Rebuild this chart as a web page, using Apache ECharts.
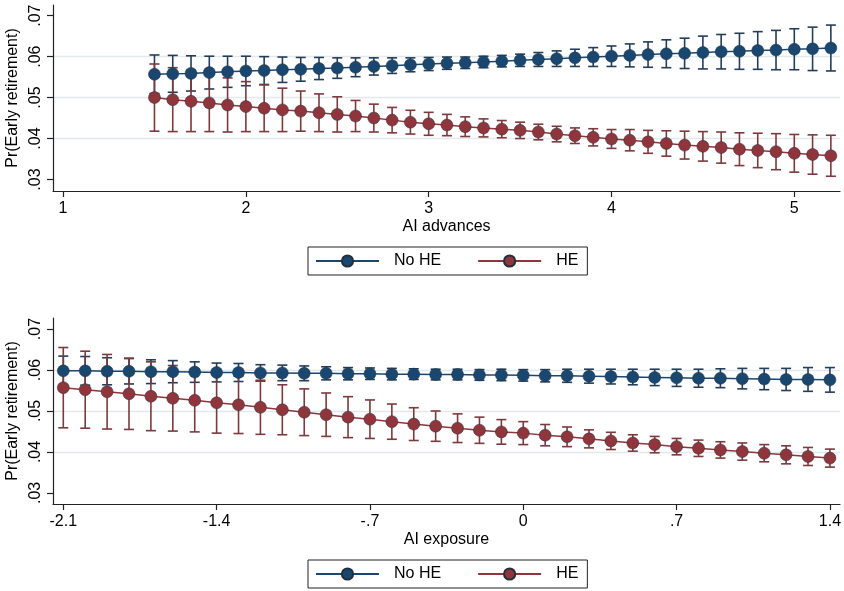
<!DOCTYPE html>
<html>
<head>
<meta charset="utf-8">
<script src="https://cdn.jsdelivr.net/npm/echarts@6/dist/echarts.min.js"></script>
<style>
html, body { margin: 0; background: #fff; }
#main { width: 844px; height: 591px; }
</style>
</head>
<body>
<div id="main"></div>
<script>
// 上图：AI advances
var advX = [1.5, 1.6, 1.7, 1.8, 1.9, 2.0, 2.1, 2.2, 2.3, 2.4, 2.5, 2.6, 2.7, 2.8, 2.9, 3.0, 3.1, 3.2, 3.3,
    3.4, 3.5, 3.6, 3.7, 3.8, 3.9, 4.0, 4.1, 4.2, 4.3, 4.4, 4.5, 4.6, 4.7, 4.8, 4.9, 5.0, 5.1, 5.2];
var advNoHE = [.0557, .0558, .0559, .0561, .0563, .0565, .0566, .0568, .0569, .0571, .0572, .0574, .0576,
    .0578, .0580, .0582, .0584, .0585, .0587, .0589, .0591, .0593, .0595, .0597, .0599, .0601, .0603,
    .0605, .0607, .0608, .0610, .0612, .0613, .0615, .0616, .0618, .0619, .0621];
var advNoHECi = [.0047, .0045, .0043, .0040, .0038, .0036, .0034, .0031, .0029, .0027, .0025, .0023, .0021,
    .0019, .0017, .0016, .0015, .0014, .0014, .0014, .0015, .0017, .0019, .0021, .0023, .0025, .0028,
    .0031, .0034, .0037, .0040, .0042, .0044, .0046, .0048, .0050, .0053, .0056];
var advHE = [.0500, .0495, .0491, .0487, .0482, .0478, .0474, .0470, .0467, .0463, .0459, .0455, .0450,
    .0445, .0440, .0436, .0433, .0429, .0426, .0423, .0420, .0416, .0411, .0407, .0403, .0399, .0396,
    .0392, .0388, .0384, .0381, .0378, .0374, .0371, .0368, .0364, .0361, .0358];
var advHECi = [.0082, .0078, .0074, .0070, .0066, .0061, .0057, .0053, .0049, .0046, .0043, .0038, .0034,
    .0031, .0029, .0028, .0026, .0024, .0022, .0021, .0020, .0019, .0019, .0019, .0021, .0023, .0026,
    .0028, .0031, .0034, .0036, .0038, .0040, .0042, .0044, .0046, .0048, .0050];
var advTicks = [1, 2, 3, 4, 5];

// 下图：AI exposure
var expX = [-2.1, -2.0, -1.9, -1.8, -1.7, -1.6, -1.5, -1.4, -1.3, -1.2, -1.1, -1.0, -0.9, -0.8, -0.7, -0.6,
    -0.5, -0.4, -0.3, -0.2, -0.1, 0, 0.1, 0.2, 0.3, 0.4, 0.5, 0.6, 0.7, 0.8, 0.9, 1.0, 1.1, 1.2, 1.3, 1.4];
var expNoHE = [.0598, .0598, .0597, .0597, .0596, .0596, .0595, .0594, .0594, .0593, .0593, .0592, .0592,
    .0591, .0591, .0590, .0590, .0589, .0589, .0588, .0588, .0587, .0586, .0586, .0585, .0584, .0583,
    .0582, .0581, .0580, .0580, .0579, .0578, .0577, .0577, .0576];
var expNoHECi = [.0036, .0035, .0033, .0031, .0029, .0027, .0025, .0023, .0022, .0020, .0019, .0018, .0016,
    .0015, .0014, .0014, .0013, .0013, .0013, .0013, .0014, .0014, .0015, .0016, .0017, .0018, .0019,
    .0020, .0021, .0022, .0023, .0025, .0026, .0027, .0029, .0030];
var expHE = [.0557, .0552, .0547, .0542, .0536, .0531, .0526, .0520, .0515, .0509, .0503, .0497, .0491,
    .0485, .0480, .0474, .0468, .0463, .0458, .0453, .0449, .0446, .0441, .0437, .0432, .0427, .0422,
    .0418, .0413, .0409, .0405, .0401, .0397, .0393, .0389, .0385];
var expHECi = [.0098, .0094, .0091, .0087, .0084, .0080, .0077, .0074, .0070, .0066, .0061, .0057, .0053,
    .0050, .0047, .0043, .0040, .0037, .0035, .0032, .0030, .0028, .0026, .0024, .0022, .0021, .0020,
    .0020, .0020, .0020, .0020, .0021, .0021, .0022, .0022, .0022];
var expTicks = [-2.1, -1.4, -0.7, 0, 0.7, 1.4];

var yTicks = [0.03, 0.04, 0.05, 0.06, 0.07];

var navy = '#1a476f';
var maroon = '#90353b';
var font = 'Liberation Sans, Arial, Helvetica, sans-serif';

function pairs(xs, ys) {
    return xs.map(function (x, i) { return [x, ys[i]]; });
}
function ciData(xs, ys, hw) {
    return xs.map(function (x, i) { return [x, ys[i] - hw[i], ys[i] + hw[i]]; });
}
function dotless(v) {
    var s = String(Math.round(v * 100) / 100);
    return s.replace(/^0\./, '.').replace(/^-0\./, '-.');
}

// 误差线（带帽）
function renderCap(params, api) {
    var x = api.value(0);
    var lo = api.coord([x, api.value(1)]);
    var hi = api.coord([x, api.value(2)]);
    var w = 5;
    var st = { stroke: api.visual('color'), lineWidth: 1.6 };
    return {
        type: 'group',
        children: [
            { type: 'line', shape: { x1: lo[0], y1: lo[1], x2: hi[0], y2: hi[1] }, style: st },
            { type: 'line', shape: { x1: lo[0] - w, y1: lo[1], x2: lo[0] + w, y2: lo[1] }, style: st },
            { type: 'line', shape: { x1: hi[0] - w, y1: hi[1], x2: hi[0] + w, y2: hi[1] }, style: st }
        ]
    };
}

function xAxisCfg(idx, min, max, ticks, name) {
    return {
        type: 'value', gridIndex: idx, min: min, max: max,
        name: name, nameLocation: 'middle', nameGap: 28,
        nameTextStyle: { fontFamily: font, fontSize: 16, color: '#000' },
        axisLine: { onZero: false, lineStyle: { color: '#222', width: 1.2 } },
        axisTick: { customValues: ticks, length: 6, lineStyle: { color: '#222', width: 1.2 } },
        axisLabel: { customValues: ticks, margin: 10, fontFamily: font, fontSize: 16, color: '#000',
            formatter: dotless },
        splitLine: { show: false }
    };
}
function yAxisCfg(idx, min, max) {
    return {
        type: 'value', gridIndex: idx, min: min, max: max,
        name: 'Pr(Early retirement)', nameLocation: 'middle', nameGap: 27,
        nameTextStyle: { fontFamily: font, fontSize: 16, color: '#000' },
        axisLine: { show: true, onZero: false, lineStyle: { color: '#222', width: 1.2 } },
        axisTick: { show: true, customValues: yTicks, length: 6, lineStyle: { color: '#222', width: 1.2 } },
        axisLabel: { customValues: yTicks, rotate: 90, margin: 9, fontFamily: font, fontSize: 16, color: '#000',
            formatter: dotless },
        splitLine: { show: true, showMinLine: false, showMaxLine: false,
            lineStyle: { color: '#e2e9ec', width: 1.3 } }
    };
}

function lineSeries(name, idx, data, color) {
    return {
        name: name, type: 'line', xAxisIndex: idx, yAxisIndex: idx, data: data,
        symbol: 'circle', symbolSize: 12, z: 5,
        lineStyle: { color: color, width: 1.5 },
        itemStyle: { color: color, borderColor: '#22303d', borderWidth: 0.5 },
        emphasis: { disabled: true }
    };
}
function capSeries(name, idx, data, color) {
    return {
        name: name, type: 'custom', xAxisIndex: idx, yAxisIndex: idx, data: data,
        renderItem: renderCap, z: 3, itemStyle: { color: color }, silent: true
    };
}

function legendCfg(top) {
    return {
        top: top, left: 308, data: ['No HE', 'HE'],
        borderColor: '#222', borderWidth: 1, padding: [6, 9, 6, 7],
        itemWidth: 63, itemHeight: 14, itemGap: 36,
        textStyle: { fontFamily: font, fontSize: 16, color: '#000', padding: [0, 0, 0, 10] },
        selectedMode: false
    };
}

var myChart = echarts.init(document.getElementById('main'));

var option = {
    animation: false,
    backgroundColor: '#fff',
    grid: [
        { left: 53, right: 4, top: 5, height: 186, outerBoundsMode: 'none' },
        { left: 53, right: 4, top: 318, height: 186, outerBoundsMode: 'none' }
    ],
    legend: [legendCfg(247), legendCfg(560)],
    xAxis: [
        xAxisCfg(0, 0.945, 5.25, advTicks, 'AI advances'),
        xAxisCfg(1, -2.147, 1.446, expTicks, 'AI exposure')
    ],
    yAxis: [
        yAxisCfg(0, 0.0272, 0.0726),
        yAxisCfg(1, 0.0273, 0.0727)
    ],
    series: [
        capSeries('No HE CI', 0, ciData(advX, advNoHE, advNoHECi), '#243d59'),
        capSeries('HE CI', 0, ciData(advX, advHE, advHECi), '#7b3a3d'),
        lineSeries('No HE', 0, pairs(advX, advNoHE), navy),
        lineSeries('HE', 0, pairs(advX, advHE), maroon),
        capSeries('No HE CI', 1, ciData(expX, expNoHE, expNoHECi), '#243d59'),
        capSeries('HE CI', 1, ciData(expX, expHE, expHECi), '#7b3a3d'),
        lineSeries('No HE', 1, pairs(expX, expNoHE), navy),
        lineSeries('HE', 1, pairs(expX, expHE), maroon)
    ]
};

myChart.setOption(option);
</script>
</body>
</html>
